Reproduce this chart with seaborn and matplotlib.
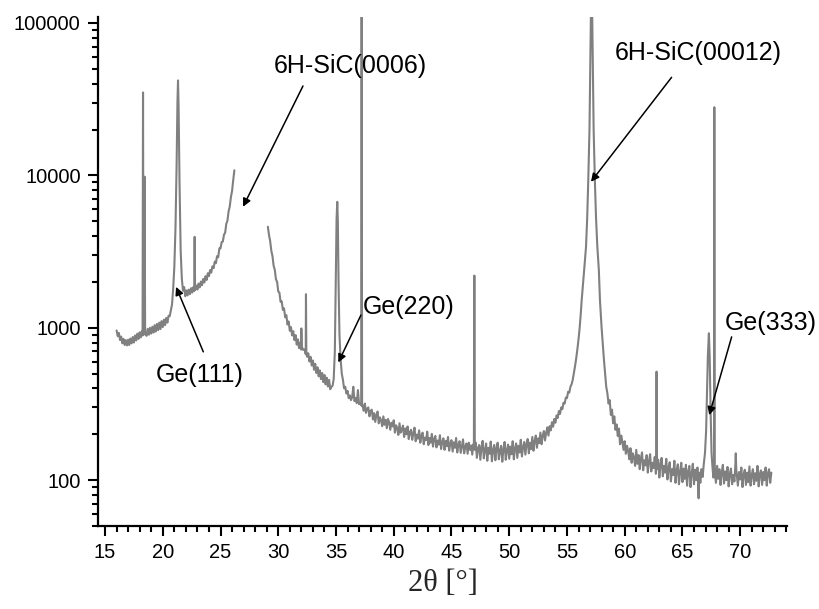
import numpy as np
import pandas as pd
import matplotlib
matplotlib.use("Agg")
import matplotlib.pyplot as plt
import seaborn as sns
from matplotlib.ticker import FixedLocator, MultipleLocator, LogLocator, NullFormatter, FuncFormatter

# ---------------- data ----------------
# segment 1 : 16.0 - 26.2 deg
seg1_x = [16.00, 16.10, 16.20, 16.30, 16.40, 16.50, 16.60, 16.70, 16.80, 16.90,
          17.00, 17.10, 17.20, 17.30, 17.40, 17.50, 17.60, 17.70, 17.80, 17.90,
          18.00, 18.10, 18.20, 18.25, 18.29, 18.33, 18.39, 18.43, 18.47, 18.60,
          18.70, 18.80, 18.90, 19.00, 19.10, 19.20, 19.30, 19.40, 19.50, 19.60,
          19.70, 19.80, 19.90, 20.00, 20.10, 20.20, 20.30, 20.40, 20.50, 20.60,
          20.70, 20.80, 20.90, 21.00, 21.10, 21.20, 21.27, 21.32, 21.37, 21.45,
          21.55, 21.65, 21.75, 21.85, 21.95, 22.05, 22.15, 22.25, 22.35, 22.45,
          22.55, 22.65, 22.72, 22.76, 22.80, 22.90, 23.00, 23.10, 23.20, 23.30,
          23.40, 23.50, 23.60, 23.70, 23.80, 23.90, 24.00, 24.10, 24.20, 24.30,
          24.40, 24.50, 24.60, 24.70, 24.80, 24.90, 25.00, 25.10, 25.20, 25.30,
          25.40, 25.50, 25.60, 25.70, 25.80, 25.90, 26.00, 26.10, 26.20]
seg1_y = [960, 880, 925, 830, 875, 790, 845, 770, 830, 765,
          835, 770, 850, 790, 870, 800, 890, 825, 915, 845,
          935, 865, 950, 890, 35000, 900, 960, 9800, 910, 885,
          985, 900, 1000, 915, 1015, 930, 1040, 945, 1060, 965,
          1080, 980, 1105, 1010, 1130, 1040, 1160, 1080, 1200, 1190,
          1300, 1420, 1800, 2500, 4500, 12000, 30000, 42000, 28000, 9000,
          3200, 2100, 1750, 1850, 1610, 1760, 1630, 1780, 1660, 1820,
          1700, 1850, 1740, 3950, 1770, 1890, 1780, 1950, 1840, 2010,
          1900, 2090, 1980, 2180, 2060, 2280, 2180, 2390, 2300, 2530,
          2460, 2720, 2650, 2950, 2900, 3320, 3320, 3650, 3680, 4080,
          4200, 4800, 5050, 5800, 6250, 7200, 7900, 9300, 10800]

# segment 2a : 29.1 - 37.26 deg
seg2a_x = [29.10, 29.20, 29.30, 29.40, 29.50, 29.60, 29.70, 29.80, 29.90, 30.00,
           30.10, 30.20, 30.30, 30.40, 30.50, 30.60, 30.70, 30.80, 30.90, 31.00,
           31.10, 31.20, 31.30, 31.40, 31.50, 31.60, 31.70, 31.80, 31.90, 31.98,
           32.00, 32.03, 32.15, 32.30, 32.38, 32.40, 32.43, 32.50, 32.60, 32.70,
           32.80, 32.90, 33.00, 33.10, 33.20, 33.30, 33.40, 33.50, 33.60, 33.70,
           33.80, 33.90, 34.00, 34.10, 34.20, 34.30, 34.40, 34.50, 34.60, 34.70,
           34.80, 34.90, 35.00, 35.05, 35.11, 35.16, 35.22, 35.30, 35.40, 35.50,
           35.60, 35.70, 35.80, 35.90, 36.00, 36.10, 36.20, 36.30, 36.40, 36.50,
           36.60, 36.70, 36.80, 36.90, 37.00, 37.10, 37.18, 37.22, 37.26]
seg2a_y = [4600, 4050, 3700, 3200, 2950, 2550, 2400, 2080, 2000, 1730,
           1700, 1480, 1490, 1310, 1340, 1170, 1210, 1050, 1100, 955,
           1010, 890, 950, 830, 895, 775, 840, 735, 800, 720,
           990, 760, 715, 720, 670, 1660, 700, 645, 680, 600,
           645, 565, 610, 530, 580, 505, 550, 480, 525, 460,
           505, 440, 490, 425, 470, 412, 455, 395, 410, 415,
           460, 700, 2500, 5200, 6700, 5000, 2000, 900, 620, 500,
           455, 400, 410, 370, 385, 345, 360, 335, 350, 410,
           330, 345, 320, 390, 315, 318, 310, 150000, 305]

# segment 2b : 37.3 - 58.4 deg (incl. 6H-SiC(00012))
seg2b_x = [37.30, 37.40, 37.50, 37.60, 37.70, 37.80, 37.90, 38.00, 38.10, 38.20,
           38.30, 38.40, 38.50, 38.60, 38.70, 38.80, 38.90, 39.00, 39.10, 39.20,
           39.30, 39.40, 39.50, 39.60, 39.70, 39.80, 39.90, 40.00, 40.10, 40.20,
           40.30, 40.40, 40.50, 40.60, 40.70, 40.80, 40.90, 41.00, 41.10, 41.20,
           41.30, 41.40, 41.50, 41.60, 41.70, 41.80, 41.90, 42.00, 42.10, 42.20,
           42.30, 42.40, 42.50, 42.60, 42.70, 42.80, 42.90, 43.00, 43.10, 43.20,
           43.30, 43.40, 43.50, 43.60, 43.70, 43.80, 43.90, 44.00, 44.10, 44.20,
           44.30, 44.40, 44.50, 44.60, 44.70, 44.80, 44.90, 45.00, 45.10, 45.20,
           45.30, 45.40, 45.50, 45.60, 45.70, 45.80, 45.90, 46.00, 46.10, 46.20,
           46.30, 46.40, 46.50, 46.60, 46.70, 46.80, 46.90,
           46.94, 46.98, 47.02,
           47.10, 47.20, 47.30, 47.40, 47.50, 47.60, 47.70, 47.80, 47.90, 48.00,
           48.10, 48.20, 48.30, 48.40, 48.50, 48.60, 48.70, 48.80, 48.90, 49.00,
           49.10, 49.20, 49.30, 49.40, 49.50, 49.60, 49.70, 49.80, 49.90, 50.00,
           50.10, 50.20, 50.30, 50.40, 50.50, 50.60, 50.70, 50.80, 50.90, 51.00,
           51.10, 51.20, 51.30, 51.40, 51.50, 51.60, 51.70, 51.80, 51.90, 52.00,
           52.10, 52.20, 52.30, 52.40, 52.50, 52.60, 52.70, 52.80, 52.90, 53.00,
           53.10, 53.20, 53.30, 53.40, 53.50, 53.60, 53.70, 53.80, 53.90, 54.00,
           54.10, 54.20, 54.30, 54.40, 54.50, 54.60, 54.70, 54.80, 54.90, 55.00,
           55.10, 55.20, 55.30, 55.40, 55.50, 55.60, 55.70, 55.80, 55.90, 56.00,
           56.10, 56.20, 56.27, 56.40, 56.50, 56.65, 56.75, 56.84, 56.95, 57.05,
           57.13, 57.21, 57.31, 57.42, 57.52, 57.63, 57.76, 57.86, 58.00, 58.10,
           58.20, 58.30, 58.40]
seg2b_y = [310, 285, 318, 276, 295, 300, 262, 284, 290, 250,
           275, 241, 268, 282, 236, 258, 247, 226, 262, 231,
           249, 219, 252, 240, 214, 238, 225, 247, 205, 229,
           220, 198, 236, 205, 214, 228, 192, 218, 200, 225,
           186, 207, 214, 184, 203, 221, 180, 199, 187, 212,
           176, 196, 205, 172, 190, 183, 208, 170, 189, 176,
           201, 166, 186, 195, 164, 182, 171, 197, 160, 178,
           188, 158, 181, 167, 192, 156, 174, 183, 154, 177,
           163, 189, 152, 171, 180, 151, 168, 185, 150, 166,
           174, 149, 176, 158, 169, 147, 172,
           160, 2200, 158,
           176, 140, 162, 170, 136, 165, 181, 139, 158, 174,
           134, 163, 149, 179, 133, 158, 170, 135, 162, 176,
           137, 156, 168, 132, 160, 178, 136, 158, 171, 138,
           166, 148, 180, 137, 162, 174, 140, 168, 152, 184,
           143, 165, 178, 147, 172, 186, 150, 176, 160, 192,
           156, 180, 196, 163, 188, 175, 205, 172, 196, 210,
           182, 205, 222, 196, 226, 212, 240, 224, 252, 238,
           266, 256, 284, 272, 300, 292, 322, 318, 348, 345,
           380, 375, 410, 425, 455, 505, 560, 630, 720, 840,
           1000, 1250, 1500, 2000, 2450, 3400, 5200, 9000, 20000, 80000,
           250000, 80000, 20000, 9000, 5200, 3400, 2400, 1500, 1000, 780,
           620, 500, 410]

# segment 2c : 58.5 - 72.7 deg (incl. Ge(333))
seg2c_x = [58.50, 58.60, 58.70, 58.80, 58.90, 59.00, 59.10, 59.20, 59.30, 59.40,
           59.50, 59.60, 59.70, 59.80, 59.90, 60.00, 60.10, 60.20, 60.30, 60.40,
           60.50, 60.60, 60.70, 60.80, 60.90, 61.00, 61.10, 61.20, 61.30, 61.40,
           61.50, 61.60, 61.70, 61.80, 61.90, 62.00, 62.10, 62.20, 62.30, 62.40,
           62.50, 62.60, 62.70, 62.74, 62.76, 62.78, 62.90, 63.00, 63.10, 63.20,
           63.30, 63.40, 63.50, 63.60, 63.70, 63.80, 63.90, 64.00, 64.10, 64.20,
           64.30, 64.40, 64.50, 64.60, 64.70, 64.80, 64.90, 65.00, 65.10, 65.20,
           65.30, 65.40, 65.50, 65.60, 65.70, 65.80, 65.90, 66.00, 66.10, 66.20,
           66.30, 66.40, 66.45, 66.55, 66.65, 66.75, 66.85, 66.95, 67.05, 67.12,
           67.20, 67.29, 67.36, 67.44, 67.52, 67.60, 67.68, 67.74, 67.76, 67.79,
           67.90, 68.00, 68.10, 68.20, 68.30, 68.40, 68.50, 68.60, 68.70, 68.80,
           68.90, 69.00, 69.10, 69.20, 69.30, 69.40, 69.50, 69.58, 69.62, 69.66,
           69.80, 69.90, 70.00, 70.10, 70.20, 70.30, 70.40, 70.50, 70.60, 70.70,
           70.80, 70.90, 71.00, 71.10, 71.20, 71.30, 71.40, 71.50, 71.60, 71.70,
           71.80, 71.90, 72.00, 72.10, 72.20, 72.30, 72.40, 72.50, 72.60, 72.70]
seg2c_y = [372, 318, 335, 268, 290, 236, 262, 214, 232, 195,
           218, 172, 196, 178, 158, 180, 149, 168, 155, 137,
           162, 130, 150, 141, 124, 158, 128, 146, 118, 139,
           152, 116, 135, 125, 146, 112, 133, 148, 114, 130,
           120, 142, 110, 125, 515, 118, 136, 104, 127, 140,
           106, 124, 112, 138, 101, 120, 131, 98, 118, 108,
           134, 96, 116, 127, 94, 113, 130, 97, 119, 102,
           126, 92, 114, 124, 90, 111, 128, 94, 117, 100,
           121, 76, 112, 96, 118, 105, 128, 150, 210, 350,
           650, 920, 640, 280, 150, 122, 104, 118, 28000, 115,
           96, 124, 102, 118, 93, 112, 126, 95, 114, 100,
           122, 91, 110, 119, 94, 108, 98, 125, 150, 118,
           92, 113, 101, 121, 90, 109, 117, 93, 112, 97,
           123, 92, 108, 118, 94, 111, 99, 124, 91, 110,
           116, 93, 113, 100, 121, 92, 111, 118, 96, 112]

y_ticks = [100, 1000, 10000, 100000]
x_ticks = [15, 20, 25, 30, 35, 40, 45, 50, 55, 60, 65, 70]

labels = ["6H-SiC(0006)", "Ge(111)", "Ge(220)", "6H-SiC(00012)", "Ge(333)"]
label_xy = [(36.2, 52300), (23.18, 489), (41.32, 1371), (66.34, 63600), (72.66, 1082)]
arrow_from = [(32.14, 38600), (23.51, 695), (37.16, 1211), (64.06, 44000), (69.26, 871)]
arrow_to = [(26.95, 6220), (21.15, 1855), (35.2, 592), (57.08, 9080), (67.32, 267)]

seg2_x = seg2a_x + seg2b_x + seg2c_x
seg2_y = seg2a_y + seg2b_y + seg2c_y
assert len(seg1_x) == len(seg1_y) and len(seg2_x) == len(seg2_y)

df = pd.DataFrame({
    "two_theta": seg1_x + seg2_x,
    "intensity": seg1_y + seg2_y,
    "segment": [1] * len(seg1_x) + [2] * len(seg2_x),
})

# ---------------- plotting ----------------
sns.set_style("ticks")
plt.rcParams["font.family"] = ["Liberation Sans", "DejaVu Sans"]

fig = plt.figure(figsize=(8.2, 6.09), dpi=100)
ax = fig.add_axes([0.1195, 0.1363, 0.8402, 0.8358])

sns.lineplot(data=df, x="two_theta", y="intensity", units="segment",
             estimator=None, sort=False, color="#808080", linewidth=1.5, ax=ax)

ax.set_yscale("log")
ax.set_xlim(14.39, 74.05)
ax.set_ylim(50, 109500)

ax.xaxis.set_major_locator(FixedLocator(x_ticks))
ax.xaxis.set_minor_locator(MultipleLocator(1))
ax.yaxis.set_major_locator(FixedLocator(y_ticks))
ax.yaxis.set_minor_locator(LogLocator(base=10, subs=np.arange(2, 10)))
ax.yaxis.set_minor_formatter(NullFormatter())
ax.yaxis.set_major_formatter(FuncFormatter(lambda v, p: f"{int(round(v))}"))

for s in ["top", "right"]:
    ax.spines[s].set_visible(False)
for s in ["left", "bottom"]:
    ax.spines[s].set_linewidth(1.6)
    ax.spines[s].set_color("black")

ax.tick_params(axis="both", which="major", direction="out", length=7.5, width=1.5,
               labelsize=14.5, colors="black", pad=5)
ax.tick_params(axis="both", which="minor", direction="out", length=4.5, width=1.5,
               colors="black")

ax.set_xlabel("2θ [°]", fontsize=22, family=["Liberation Serif", "DejaVu Serif"], labelpad=5)
ax.set_ylabel("")

for txt, (tx, ty), (fx, fy), (ex, ey) in zip(labels, label_xy, arrow_from, arrow_to):
    ax.text(tx, ty, txt, ha="center", va="center", fontsize=18, color="black")
    ax.annotate("", xy=(ex, ey), xytext=(fx, fy),
                arrowprops=dict(arrowstyle="-|>", color="black", lw=1.1,
                                mutation_scale=12, shrinkA=0, shrinkB=0))

fig.savefig("out.png", dpi=100)
